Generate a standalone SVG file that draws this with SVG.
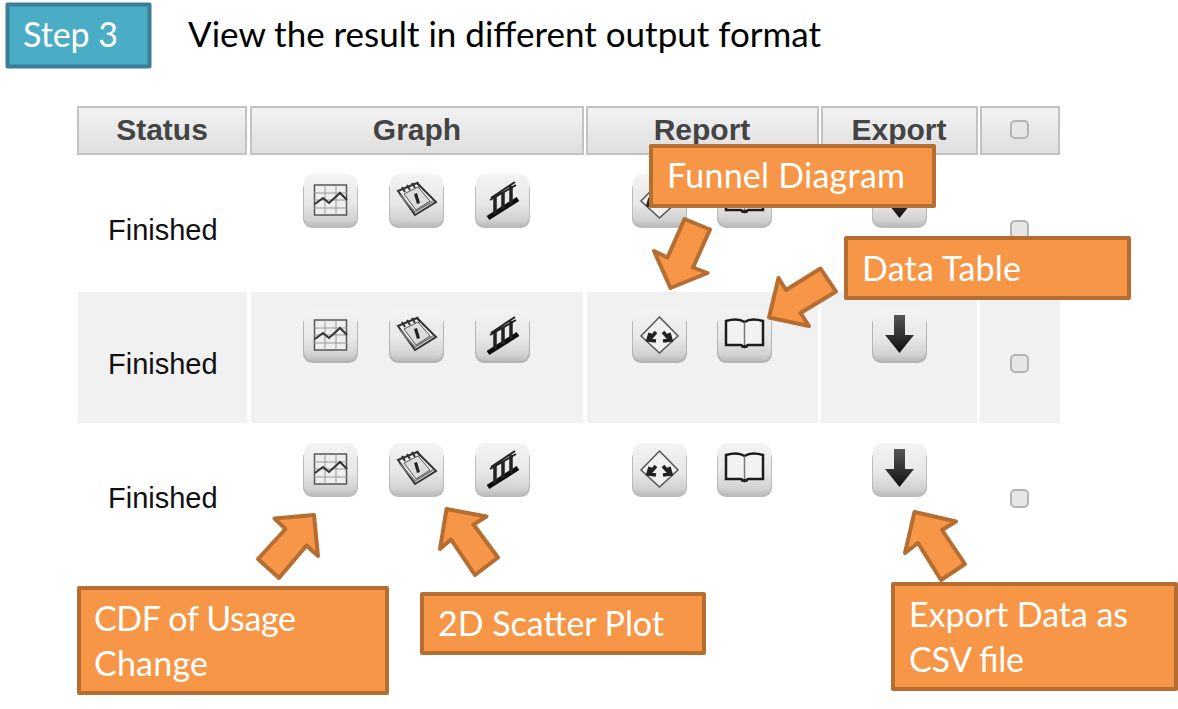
<svg xmlns="http://www.w3.org/2000/svg" width="1178" height="709" viewBox="0 0 1178 709">
<style>
.call{fill:#f79646;stroke:#b66d31;stroke-width:4;stroke-linejoin:round}
.arrow{fill:#f79646;stroke:#b66d31;stroke-width:4;stroke-linejoin:round}
.ct{font-family:"Lato","Carlito","Open Sans",sans-serif;font-size:34px;fill:#fff}
.hd{font-family:"Liberation Sans",Arial,sans-serif;font-weight:700;font-size:30px;fill:#444;text-anchor:middle}
.st{font-family:"Liberation Sans",Arial,sans-serif;font-size:29px;fill:#111}
.th{fill:url(#hg);stroke:#c2c2c2;stroke-width:2}
.cb{fill:#e6e6e6;stroke:#b4b4b4;stroke-width:2}
.bk{fill:#222}
</style>
<defs>
<filter id="soft" x="-10%" y="-10%" width="120%" height="120%"><feGaussianBlur stdDeviation="0.45"/></filter>
<linearGradient id="hg" x1="0" y1="0" x2="0" y2="1"><stop offset="0" stop-color="#f3f3f3"/><stop offset="1" stop-color="#dedede"/></linearGradient>
<linearGradient id="bg" x1="0" y1="0" x2="0" y2="1"><stop offset="0" stop-color="#f3f3f3"/><stop offset=".55" stop-color="#e8e8e8"/><stop offset=".88" stop-color="#d2d2d2"/><stop offset="1" stop-color="#bcbcbc"/></linearGradient>
<linearGradient id="ag" x1="0" y1="0" x2="0" y2="1"><stop offset="0" stop-color="#555"/><stop offset="1" stop-color="#111"/></linearGradient>
<g id="btn"><rect x="-1" y="6" width="55" height="48" rx="9" fill="#777" opacity=".5"/><rect x="0" y="0" width="53" height="52" rx="9" fill="url(#bg)"/></g>
<g id="i-chart"><use href="#btn"/><rect x="10.500" y="11" width="32" height="30" fill="#eee" stroke="#555" stroke-width="1.500"/><path d="M10 19H43M10 26H43M10 34H43M21 11V41M32 11V41" fill="none" stroke="#999" stroke-width="1"/><path d="M11 30L19 24L25 29L36 19L43 26" fill="none" stroke="#333" stroke-width="2"/></g>
<g id="i-cal"><use href="#btn"/><path d="M8 17L27 9L46 28L25 41Z" fill="#eee" stroke="#333" stroke-width="2"/><path d="M10 21L25 38L43 27" fill="none" stroke="#777" stroke-width="1.500"/><path d="M12 13L15 18M17 11L20 16M22 9L25 14M27 8L30 13" stroke="#333" stroke-width="2"/><path d="M14 20L28 13L40 27L26 36Z" fill="#ddd" stroke="#555" stroke-width="1"/><path d="M24 20L27 19L30 29L27 30Z" fill="#222"/></g>
<g id="i-stairs"><use href="#btn"/><path d="M15 24L39 8M14 26L40 11" stroke="#222" stroke-width="2" fill="none"/><path d="M12 44L42 25" stroke="#111" stroke-width="5"/><path d="M19 23V40M27 18V35M35 12V30" stroke="#222" stroke-width="3.500"/></g>
<g id="i-funnel"><use href="#btn"/><path d="M26.500 8L45 27L26.500 44L8 27Z" fill="#f0f0f0" stroke="#555" stroke-width="1.500"/><path d="M16 31L23 23M23 32L15 31L17 24M37 31L30 23M30 32L38 31L36 24" fill="none" stroke="#222" stroke-width="3.500"/></g>
<g id="i-book"><use href="#btn"/><path d="M8 12C15 10 22 10 26.500 13C31 10 38 10 45 12V36H30L26.500 38L23 36H8Z" fill="#f2f2f2" stroke="#1c1c1c" stroke-width="2.500"/><path d="M26.500 13V37" stroke="#777" stroke-width="1.500"/><rect x="23" y="36" width="7" height="3" rx="1.500" class="bk"/></g>
<g id="i-down"><use href="#btn"/><path d="M21 6H32V26H41L26.500 44L12 26H21Z" fill="url(#ag)"/></g>
<g id="row" filter="url(#soft)"><use href="#i-chart" x="304"/><use href="#i-cal" x="390"/><use href="#i-stairs" x="476"/><use href="#i-funnel" x="633"/><use href="#i-book" x="718"/><use href="#i-down" x="873"/></g>
</defs>

<rect width="1178" height="709" fill="#fff"/>

<g id="step-label">
<rect x="7.500" y="4.500" width="142" height="62" fill="#4bacc6" stroke="#3a7f95" stroke-width="4" stroke-linejoin="round"/>
<text x="23" y="47" class="ct" textLength="95">Step 3</text>
</g>
<text id="title" x="188" y="47" font-family="Lato,Carlito,'Open Sans',sans-serif" font-size="35" fill="#000" textLength="633">View the result in different output format</text>

<g id="table">
<rect x="78" y="292" width="169" height="131" fill="#f1f1f1"/>
<rect x="251" y="292" width="332" height="131" fill="#f1f1f1"/>
<rect x="587" y="292" width="231" height="131" fill="#f1f1f1"/>
<rect x="821" y="292" width="156" height="131" fill="#f1f1f1"/>
<rect x="980" y="292" width="80" height="131" fill="#f1f1f1"/>
<rect x="78" y="107" width="168" height="47" class="th"/>
<rect x="251" y="107" width="332" height="47" class="th"/>
<rect x="587" y="107" width="231" height="47" class="th"/>
<rect x="822" y="107" width="155" height="47" class="th"/>
<rect x="981" y="107" width="78" height="47" class="th"/>
<text x="162" y="140" class="hd">Status</text>
<text x="417" y="140" class="hd">Graph</text>
<text x="702" y="140" class="hd">Report</text>
<text x="899" y="140" class="hd">Export</text>
<rect x="1011" y="121" width="17" height="17" rx="4" class="cb"/>
<text x="108" y="240" class="st">Finished</text>
<text x="108" y="374" class="st">Finished</text>
<text x="108" y="508" class="st">Finished</text>
<use href="#row" y="174"/>
<use href="#row" y="309"/>
<use href="#row" y="443"/>
<rect x="1011" y="221" width="17" height="17" rx="4" class="cb"/>
<rect x="1011" y="355" width="17" height="17" rx="4" class="cb"/>
<rect x="1011" y="490" width="17" height="17" rx="4" class="cb"/>
</g>

<g id="connectors">
<polygon class="arrow" points="684.500,219 710,229.500 693,267.500 707.500,273 670.500,288 654,251 667.500,257.500"/>
<polygon class="arrow" points="820.500,268.500 836,291.500 800.500,313 809,326 769,317.500 778.500,278 786,290"/>
<polygon class="arrow" points="314,515 318,556 306.500,545.500 279,578 258,559 285.500,529 274.500,518.500"/>
<polygon class="arrow" points="446.500,509 486.500,516.500 473.500,524.500 498,557.500 475,575 451,539.500 440,549"/>
<polygon class="arrow" points="914.500,512 956,521.500 942,530 965,564 941,580 918,543 905,553"/>
</g>

<g id="funnel-diagram"><rect x="651" y="146" width="283" height="60" class="call"/><text x="667" y="188" class="ct" textLength="238">Funnel Diagram</text></g>
<g id="data-table"><rect x="846" y="238" width="283" height="60" class="call"/><text x="862" y="281" class="ct" textLength="159">Data Table</text></g>
<g id="cdf-usage"><rect x="79" y="588" width="308" height="105" class="call"/><text x="94" y="631" class="ct" textLength="202">CDF of Usage</text><text x="94" y="676" class="ct" textLength="114">Change</text></g>
<g id="scatter-plot"><rect x="422" y="594" width="282" height="59" class="call"/><text x="438" y="636" class="ct" textLength="226">2D Scatter Plot</text></g>
<g id="export-data"><rect x="893" y="584" width="283" height="105" class="call"/><text x="909" y="627" class="ct" textLength="219">Export Data as</text><text x="909" y="672" class="ct" textLength="115">CSV file</text></g>
</svg>
